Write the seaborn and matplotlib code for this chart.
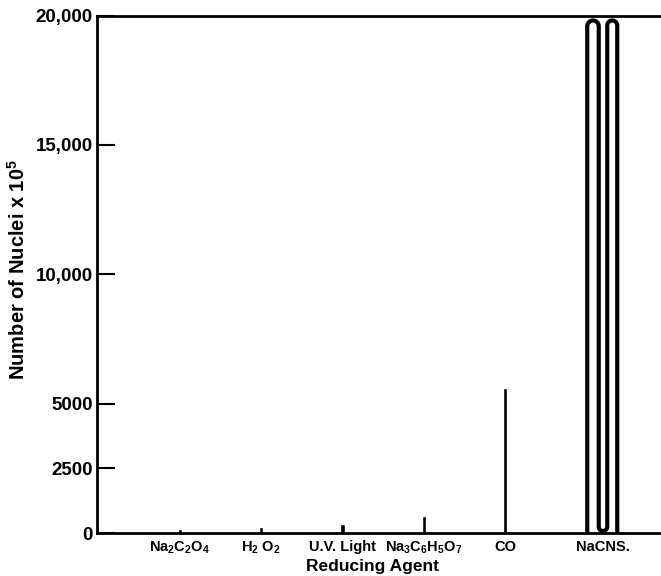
import numpy as np
import matplotlib
matplotlib.use("Agg")
import matplotlib.pyplot as plt
import seaborn as sns

# values (NaCNS goes off the top of the scale)
agents = [r"Na$_2$C$_2$O$_4$", r"H$_2$ O$_2$", "U.V. Light",
          r"Na$_3$C$_6$H$_5$O$_7$", "CO", "NaCNS."]
agent_pos = [1, 2, 3, 4, 5, 6.2]
nuclei = [150, 230, 360, 650, 5600, 20000]
y_ticks = [0, 2500, 5000, 10000, 15000, 20000]
y_ticklabels = ["0", "2500", "5000", "10,000", "15,000", "20,000"]

sns.set_style("ticks")
plt.rcParams["font.family"] = ["Liberation Sans", "DejaVu Sans"]
plt.rcParams["font.weight"] = "bold"
plt.rcParams["text.color"] = "black"
plt.rcParams["axes.labelcolor"] = "black"
plt.rcParams["xtick.color"] = "black"
plt.rcParams["ytick.color"] = "black"
plt.rcParams["mathtext.fontset"] = "custom"
plt.rcParams["mathtext.rm"] = "Liberation Sans:bold"
plt.rcParams["mathtext.it"] = "Liberation Sans:bold"
plt.rcParams["mathtext.bf"] = "Liberation Sans:bold"

fig = plt.figure(figsize=(6.61, 5.76), dpi=100)
ax = fig.add_axes([97 / 661, 43 / 576, 570 / 661, 517.5 / 576])

# the small bars
sns.barplot(x=agent_pos[:5], y=nuclei[:5], native_scale=True, width=0.05,
            color="black", saturation=1, errorbar=None, ax=ax)

ax.set_xlim(-0.018, 6.99)
ax.set_ylim(0, 20000)

# NaCNS: drawn as a coiled line reaching the top of the scale
t = ax.transData
x0, y0 = t.transform((0, 0))
x1, y1 = t.transform((1, 1000))
sx = 1 / (x1 - x0)
sy = 1000 / (y1 - y0)
top = nuclei[5] / sy - 5
th = np.linspace(np.pi, 0, 40)
th_u = np.linspace(np.pi, 2 * np.pi, 30)
px = np.concatenate([[-15.5], -9.75 + 5.75 * np.cos(th),
                     0.25 + 4.25 * np.cos(th_u),
                     9.5 + 5.0 * np.cos(th), [14.5]])
py = np.concatenate([[0], top - 5.75 + 5.75 * np.sin(th),
                     6.25 + 4.25 * np.sin(th_u),
                     top - 5.0 + 5.0 * np.sin(th), [0]])
ax.plot(agent_pos[5] + px * sx, py * sy, color="black", lw=3.0,
        solid_joinstyle="round", solid_capstyle="butt")

ax.set_xticks(agent_pos)
ax.set_xticklabels(agents, fontsize=10.5, fontweight="bold")
ax.tick_params(axis="x", length=0, pad=5)
ax.set_yticks(y_ticks)
ax.set_yticklabels(y_ticklabels, fontsize=13.5, fontweight="bold")
ax.tick_params(axis="y", direction="in", length=13, width=1.5, pad=3)

for side in ["left", "bottom", "top"]:
    ax.spines[side].set_linewidth(2)
    ax.spines[side].set_color("black")
ax.spines["right"].set_visible(False)

ax.set_xlabel("Reducing Agent", fontsize=12.5, fontweight="bold")
ax.xaxis.set_label_coords(0.483, -0.051)
ax.set_ylabel(r"Number of Nuclei x 10$^{5}$", fontsize=14.5, fontweight="bold")
ax.yaxis.set_label_coords(-0.119, 0.51)

plt.savefig("out.png", dpi=100)
